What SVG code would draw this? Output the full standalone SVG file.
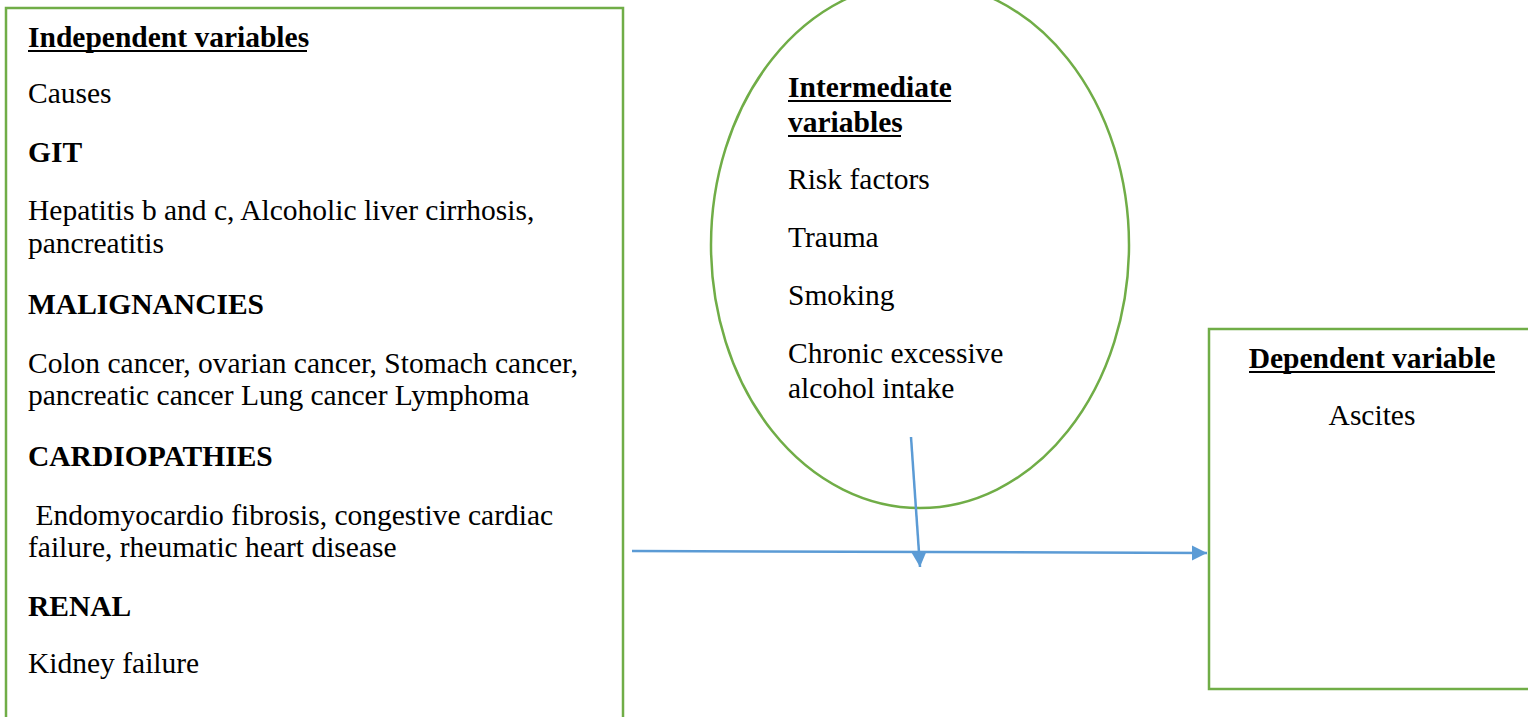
<svg xmlns="http://www.w3.org/2000/svg" width="1528" height="717" viewBox="0 0 1528 717">
<style>
.box{fill:#fff;stroke:#70AD47;stroke-width:2.5}
.t{font-family:"Liberation Serif","Tinos","Times New Roman","DejaVu Serif",serif;font-size:29.5px;fill:#000}
.b{font-weight:bold}
.ul{stroke:#000;stroke-width:2.2}
.c{stroke:#5B9BD5;stroke-width:2.5;fill:none}
</style>
<defs>
<marker id="ah" viewBox="0 0 10 10" refX="10" refY="5" markerWidth="6" markerHeight="6.5" orient="auto" markerUnits="strokeWidth">
<path d="M0,0 L10,5 L0,10 Z" fill="#5B9BD5"/>
</marker>
</defs>
<rect width="1528" height="717" fill="#fff"/>
<g id="independent">
<rect class="box" x="6" y="8" width="617" height="720"/>
<text class="t b" x="28" y="47">Independent variables</text>
<line class="ul" x1="28" y1="51" x2="307" y2="51"/>
<text class="t" x="28" y="103">Causes</text>
<text class="t b" x="28" y="162">GIT</text>
<text class="t" x="28" y="220">Hepatitis b and c, Alcoholic liver cirrhosis,</text>
<text class="t" x="28" y="253">pancreatitis</text>
<text class="t b" x="28" y="314">MALIGNANCIES</text>
<text class="t" x="28" y="373">Colon cancer, ovarian cancer, Stomach cancer,</text>
<text class="t" x="28" y="405">pancreatic cancer Lung cancer Lymphoma</text>
<text class="t b" x="28" y="466">CARDIOPATHIES</text>
<text class="t" x="28" y="525" xml:space="preserve"> Endomyocardio fibrosis, congestive cardiac</text>
<text class="t" x="28" y="557">failure, rheumatic heart disease</text>
<text class="t b" x="28" y="616">RENAL</text>
<text class="t" x="28" y="673">Kidney failure</text>
</g>
<g id="intermediate">
<ellipse class="box" cx="920" cy="245" rx="209" ry="263"/>
<text class="t b" x="788" y="97">Intermediate</text>
<line class="ul" x1="788" y1="101" x2="951" y2="101"/>
<text class="t b" x="788" y="132">variables</text>
<line class="ul" x1="788" y1="136" x2="901" y2="136"/>
<text class="t" x="788" y="189">Risk factors</text>
<text class="t" x="788" y="247">Trauma</text>
<text class="t" x="788" y="305">Smoking</text>
<text class="t" x="788" y="363">Chronic excessive</text>
<text class="t" x="788" y="398">alcohol intake</text>
</g>
<g id="dependent">
<rect class="box" x="1209" y="329" width="330" height="360"/>
<text class="t b" x="1372" y="368" text-anchor="middle">Dependent variable</text>
<line class="ul" x1="1249" y1="372" x2="1495" y2="372"/>
<text class="t" x="1372" y="425" text-anchor="middle">Ascites</text>
</g>
<g id="connectors">
<line class="c" x1="632" y1="551" x2="1207" y2="553" marker-end="url(#ah)"/>
<line class="c" x1="911" y1="437" x2="920" y2="567" marker-end="url(#ah)"/>
</g>
</svg>
